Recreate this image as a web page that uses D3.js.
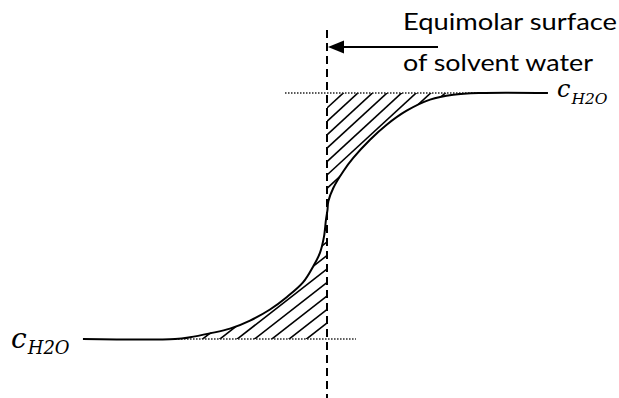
<!DOCTYPE html>
<html>
<head>
<meta charset="utf-8">
<script src="https://cdn.jsdelivr.net/npm/d3@7"></script>
<style>
  html, body { margin: 0; padding: 0; background: #fff; }
  svg { display: block; }
</style>
</head>
<body>
<svg id="chart" width="619" height="398"></svg>
<script>
// Water concentration profile across the interface.
// position: distance from the equimolar surface (arbitrary units)
// waterConc: normalised solvent-water concentration (0 = bulk low, 1 = bulk high)
const position  = [-1.627, -1.013, -0.913, -0.78, -0.647, -0.513, -0.38, -0.267, -0.16, -0.093, -0.047, -0.02, -0.007, 0.003, 0.009, 0.042, 0.109, 0.175, 0.287, 0.398, 0.531, 0.687, 0.842, 1.02, 1.473];
const waterConc = [0, 0, 0.007, 0.023, 0.042, 0.075, 0.120, 0.171, 0.230, 0.294, 0.350, 0.416, 0.484, 0.524, 0.560, 0.614, 0.682, 0.736, 0.810, 0.871, 0.928, 0.973, 0.993, 1, 1];

// Bulk levels and the location of the Gibbs dividing surface
const bulkLevels = [0, 1];
const surfacePosition = 0;
const surfaceMidConc = 0.52;

// Labels
const levelLabel = { base: "c", sub: "H2O" };
const surfaceLabel = ["Equimolar surface", "of solvent water"];

const svg = d3.select("#chart");
const x = d3.scaleLinear().domain([-2, 2]).range([27, 627]);
const y = d3.scaleLinear().domain([0, 1]).range([339, 93]);

const profile = position.map((p, i) => ({ p, c: waterConc[i] }));
const smooth = d3.curveCatmullRom.alpha(0.5);

const lineGen = d3.line()
  .x(d => x(d.p))
  .y(d => y(d.c))
  .curve(smooth);

// Hatched regions between the profile, the dividing surface and the bulk levels
const lower = profile.filter(d => d.p <= surfacePosition).concat([{ p: surfacePosition, c: surfaceMidConc }]);
const upper = [{ p: surfacePosition, c: surfaceMidConc }]
  .concat(profile.filter(d => d.p >= surfacePosition && d.c < 1))
  .concat([{ p: 1.02, c: 1 }]);

const areaLower = d3.area().x(d => x(d.p)).y0(y(bulkLevels[0])).y1(d => y(d.c)).curve(smooth);
const areaUpper = d3.area().x(d => x(d.p)).y0(y(bulkLevels[1])).y1(d => y(d.c)).curve(smooth);

const defs = svg.append("defs");
defs.append("clipPath").attr("id", "clip-lower").append("path").attr("d", areaLower(lower));
defs.append("clipPath").attr("id", "clip-upper").append("path").attr("d", areaUpper(upper));

// Diagonal hatching, each family anchored on the dividing surface
const xs = x(surfacePosition);
const hatchSets = [
  { clip: "clip-upper", slope: 0.92, gap: 13.4, start: 108, count: 12, dir: 1 },
  { clip: "clip-lower", slope: 0.78, gap: 13.5, start: 323, count: 12, dir: -1 }
];
hatchSets.forEach(h => {
  const ys = d3.range(h.count).map(n => h.start + h.dir * h.gap * n);
  svg.append("g").attr("clip-path", `url(#${h.clip})`)
    .selectAll("line").data(ys).join("line")
    .attr("x1", xs - 300).attr("y1", d => d + 300 * h.slope)
    .attr("x2", xs + 300).attr("y2", d => d - 300 * h.slope)
    .attr("stroke", "#000").attr("stroke-width", 1.6);
});

// Dotted bulk level guides
const guides = [
  { c: bulkLevels[1], from: -0.28, to: 1.02 },
  { c: bulkLevels[0], from: -1.013, to: 0.193 }
];
svg.selectAll("line.guide").data(guides).join("line")
  .attr("class", "guide")
  .attr("x1", d => x(d.from)).attr("x2", d => x(d.to))
  .attr("y1", d => y(d.c)).attr("y2", d => y(d.c))
  .attr("stroke", "#222").attr("stroke-width", 1.3)
  .attr("stroke-dasharray", "1.5,1.5");

// Dividing surface (dashed vertical)
svg.append("line")
  .attr("x1", xs).attr("x2", xs)
  .attr("y1", y(1.256)).attr("y2", y(-0.25))
  .attr("stroke", "#000").attr("stroke-width", 2)
  .attr("stroke-dasharray", "8,5");

// Concentration profile
svg.append("path")
  .attr("d", lineGen(profile))
  .attr("fill", "none").attr("stroke", "#000").attr("stroke-width", 2);

// Arrow pointing at the dividing surface
const arrowY = y(1.187);
const arrowTail = x(0.74);
svg.append("line")
  .attr("x1", arrowTail).attr("x2", xs + 14)
  .attr("y1", arrowY).attr("y2", arrowY)
  .attr("stroke", "#000").attr("stroke-width", 2);
svg.append("path")
  .attr("d", `M${xs + 1},${arrowY} L${xs + 17},${arrowY - 6.5} L${xs + 17},${arrowY + 6.5} Z`)
  .attr("fill", "#000");

// Surface caption
const captionWidths = [214, 190];
svg.append("g").selectAll("text").data(surfaceLabel).join("text")
  .attr("x", 403).attr("y", (d, i) => 30 + i * 41)
  .attr("font-family", "Lato, 'Open Sans', sans-serif")
  .attr("font-size", 23)
  .attr("textLength", (d, i) => captionWidths[i])
  .attr("lengthAdjust", "spacingAndGlyphs")
  .attr("fill", "#000")
  .text(d => d);

// Concentration level labels
function levelText(xp, yp, size, subSize, subDrop) {
  const t = svg.append("text")
    .attr("x", xp).attr("y", yp)
    .attr("font-family", "'DejaVu Serif', serif")
    .attr("font-style", "italic")
    .attr("font-size", size)
    .attr("fill", "#000");
  t.append("tspan").text(levelLabel.base);
  t.append("tspan").attr("font-size", subSize).attr("dy", subDrop).attr("dx", 1).text(levelLabel.sub);
}
levelText(11, 348, 28, 18, 6);
levelText(557, 97, 24, 15.5, 7);
</script>
</body>
</html>
